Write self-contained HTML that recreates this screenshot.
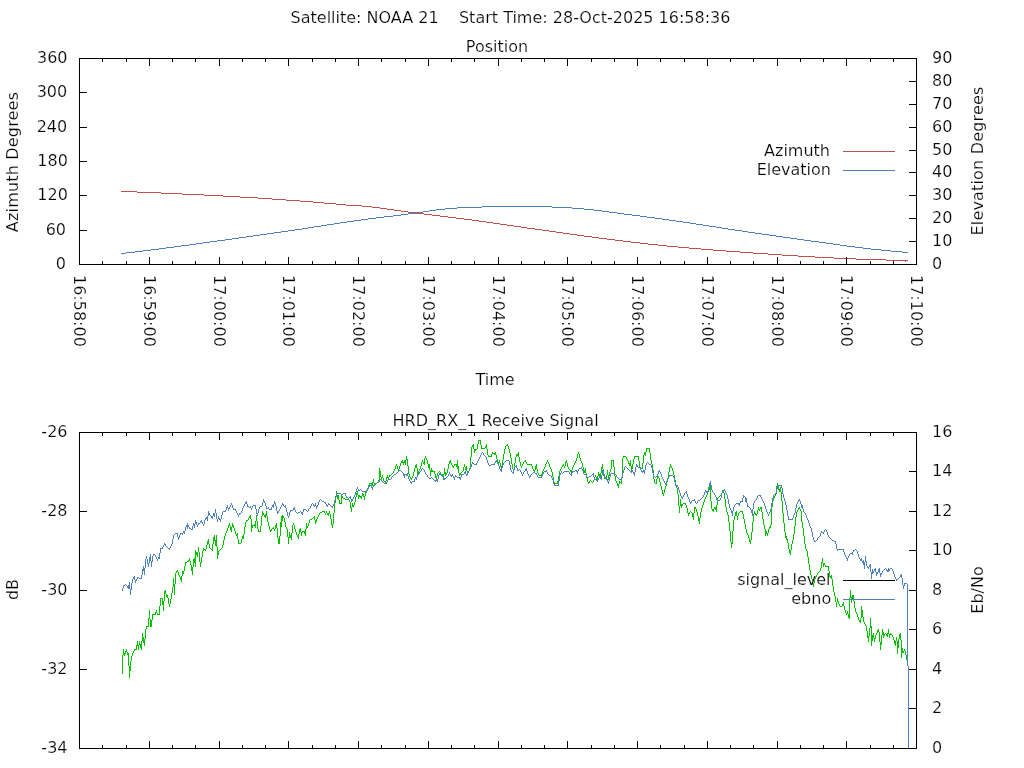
<!DOCTYPE html>
<html lang="en"><head><meta charset="utf-8"><title>Satellite: NOAA 21</title>
<style>html,body{margin:0;padding:0;background:#fff;overflow:hidden}svg{display:block}</style>
</head><body>
<svg width="1024" height="768" viewBox="0 0 1024 768">
<rect width="1024" height="768" fill="#fff"/>
<g fill="none" stroke-width="1" stroke-linecap="butt">
<path stroke="#c0504d" d="M121 191.5h16M137 192.5h24M161 193.5h21M182 194.5h22M204 195.5h19M223 196.5h17M240 197.5h18M258 198.5h14M272 199.5h14M286 200.5h14M300 201.5h13M313 202.5h11M324 203.5h12M336 204.5h10M346 205.5h16M362 206.5h10M372 207.5h8M380 208.5h7M387 209.5h7M394 210.5h7M401 211.5h7M408 212.5h8M416 213.5h8M424 214.5h8M432 215.5h8M440 216.5h8M448 217.5h8M456 218.5h8M464 219.5h8M472 220.5h7M479 221.5h7M486 222.5h7M493 223.5h7M500 224.5h7M507 225.5h7M514 226.5h7M521 227.5h6M527 228.5h8M535 229.5h7M542 230.5h7M549 231.5h7M556 232.5h7M563 233.5h7M570 234.5h7M577 235.5h7M584 236.5h8M592 237.5h7M599 238.5h8M607 239.5h8M615 240.5h8M623 241.5h8M631 242.5h9M640 243.5h8M648 244.5h10M658 245.5h9M667 246.5h11M678 247.5h11M689 248.5h12M701 249.5h12M713 250.5h13M726 251.5h14M740 252.5h13M753 253.5h15M768 254.5h14M782 255.5h16M798 256.5h17M815 257.5h19M834 258.5h22M856 259.5h30M886 260.5h22M905 261.5h1"/>
<path stroke="#4f81bd" d="M482 206.5h70M457 207.5h25M552 207.5h20M445 208.5h12M572 208.5h12M436 209.5h9M584 209.5h10M429 210.5h7M594 210.5h8M423 211.5h6M602 211.5h7M416 212.5h7M609 212.5h8M408 213.5h8M617 213.5h7M401 214.5h7M624 214.5h8M393 215.5h8M632 215.5h8M384 216.5h9M640 216.5h7M376 217.5h8M647 217.5h8M368 218.5h8M655 218.5h7M361 219.5h7M662 219.5h7M354 220.5h7M669 220.5h7M347 221.5h7M676 221.5h7M340 222.5h7M683 222.5h7M334 223.5h6M690 223.5h6M327 224.5h7M696 224.5h7M321 225.5h6M703 225.5h6M314 226.5h7M709 226.5h7M308 227.5h6M716 227.5h6M302 228.5h6M722 228.5h6M295 229.5h7M728 229.5h7M288 230.5h7M735 230.5h7M281 231.5h7M742 231.5h6M274 232.5h7M748 232.5h7M267 233.5h7M755 233.5h7M260 234.5h7M762 234.5h7M253 235.5h7M769 235.5h7M246 236.5h7M776 236.5h7M239 237.5h7M783 237.5h7M232 238.5h7M790 238.5h7M225 239.5h7M797 239.5h7M217 240.5h8M804 240.5h7M210 241.5h7M811 241.5h8M203 242.5h7M819 242.5h7M196 243.5h7M826 243.5h7M189 244.5h7M833 244.5h7M181 245.5h8M840 245.5h7M174 246.5h7M847 246.5h8M166 247.5h8M855 247.5h8M159 248.5h7M863 248.5h8M151 249.5h8M871 249.5h10M143 250.5h8M881 250.5h10M135 251.5h8M891 251.5h11M126 252.5h9M902 252.5h6M121 253.5h5"/>
<path d="M843 151.5H895" stroke="#c0504d"/>
<path d="M843 170.5H895" stroke="#4f81bd"/>
<path stroke="#00c000" d="M122.5 655v19M123.5 649v6M124.5 653v3M125.5 651v3M126.5 649v3M127.5 652v3M128.5 653v13M129.5 666v12M130.5 661v10M131.5 656v5M132.5 653v3M133.5 651v2M134.5 649v2M135.5 649v1M136.5 645v5M137.5 641v5M138.5 645v5M139.5 641v4M140.5 644v4M141.5 641v9M142.5 633v8M143.5 637v6M144.5 639v7M145.5 629v10M146.5 626v3M147.5 626v1M148.5 618v9M149.5 610v9M150.5 619v8M151.5 620v7M152.5 614v6M153.5 614v1M154.5 614v1M155.5 612v3M156.5 610v3M157.5 613v2M158.5 614v1M159.5 606v9M160.5 598v8M161.5 598v1M162.5 598v7M163.5 601v10M164.5 591v10M165.5 590v4M166.5 594v3M167.5 595v3M168.5 598v6M169.5 604v3M170.5 599v5M171.5 593v6M172.5 587v6M173.5 578v9M174.5 584v11M175.5 573v11M176.5 571v2M177.5 570v2M178.5 572v3M179.5 575v2M180.5 577v3M181.5 576v6M182.5 571v5M183.5 571v3M184.5 566v5M185.5 562v4M186.5 562v1M187.5 561v1M188.5 560v2M189.5 558v3M190.5 561v4M191.5 565v6M192.5 567v8M193.5 559v8M194.5 558v5M195.5 550v17M196.5 552v3M197.5 552v5M198.5 547v5M199.5 552v10M200.5 562v5M201.5 557v6M202.5 551v6M203.5 548v3M204.5 549v1M205.5 549v2M206.5 545v4M207.5 541v4M208.5 539v5M209.5 544v4M210.5 548v1M211.5 549v1M212.5 544v7M213.5 537v7M214.5 535v6M215.5 540v6M216.5 535v12M217.5 547v12M218.5 551v4M219.5 550v1M220.5 549v1M221.5 548v1M222.5 545v3M223.5 540v5M224.5 536v4M225.5 533v3M226.5 531v2M227.5 528v3M228.5 525v3M229.5 523v3M230.5 526v4M231.5 527v5M232.5 523v4M233.5 525v3M234.5 528v3M235.5 531v3M236.5 534v2M237.5 533v6M238.5 539v5M239.5 543v1M240.5 543v1M241.5 539v4M242.5 536v3M243.5 534v5M244.5 527v7M245.5 522v5M246.5 520v2M247.5 520v1M248.5 518v2M249.5 516v2M250.5 515v4M251.5 519v13M252.5 525v3M253.5 525v1M254.5 524v2M255.5 521v7M256.5 515v6M257.5 521v8M258.5 529v3M259.5 531v1M260.5 526v6M261.5 516v10M262.5 511v5M263.5 513v2M264.5 515v2M265.5 514v4M266.5 511v5M267.5 516v6M268.5 522v4M269.5 526v4M270.5 530v2M271.5 529v2M272.5 528v1M273.5 527v2M274.5 529v2M275.5 525v4M276.5 523v5M277.5 528v10M278.5 538v6M279.5 536v8M280.5 522v14M281.5 516v11M282.5 515v6M283.5 516v2M284.5 518v4M285.5 522v5M286.5 527v2M287.5 529v8M288.5 537v7M289.5 532v6M290.5 535v3M291.5 533v7M292.5 525v8M293.5 523v2M294.5 525v4M295.5 529v3M296.5 532v3M297.5 535v2M298.5 534v5M299.5 529v5M300.5 528v4M301.5 532v4M302.5 531v2M303.5 531v1M304.5 531v3M305.5 529v7M306.5 523v6M307.5 526v2M308.5 523v3M309.5 520v3M310.5 519v1M311.5 519v1M312.5 518v1M313.5 517v1M314.5 516v4M315.5 520v4M316.5 519v3M317.5 517v2M318.5 515v2M319.5 513v2M320.5 512v1M321.5 512v1M322.5 511v1M323.5 511v1M324.5 511v2M325.5 513v2M326.5 511v2M327.5 513v2M328.5 513v3M329.5 511v3M330.5 514v5M331.5 519v6M332.5 524v4M333.5 513v11M334.5 503v10M335.5 496v7M336.5 491v5M337.5 495v4M338.5 495v5M339.5 500v4M340.5 503v1M341.5 495v9M342.5 496v2M343.5 498v1M344.5 498v1M345.5 499v1M346.5 499v1M347.5 499v1M348.5 499v1M349.5 500v2M350.5 502v6M351.5 507v5M352.5 503v4M353.5 505v2M354.5 502v3M355.5 497v5M356.5 493v4M357.5 491v4M358.5 495v4M359.5 495v2M360.5 496v2M361.5 496v3M362.5 493v3M363.5 494v3M364.5 496v4M365.5 492v4M366.5 490v2M367.5 488v2M368.5 485v3M369.5 483v2M370.5 483v1M371.5 483v2M372.5 482v4M373.5 479v4M374.5 483v3M375.5 484v1M376.5 483v1M377.5 482v1M378.5 480v2M379.5 468v12M380.5 471v6M381.5 477v3M382.5 475v3M383.5 478v3M384.5 481v1M385.5 481v2M386.5 477v4M387.5 475v3M388.5 477v3M389.5 475v2M390.5 475v1M391.5 474v1M392.5 473v1M393.5 471v2M394.5 469v2M395.5 466v3M396.5 464v2M397.5 466v3M398.5 469v2M399.5 466v3M400.5 463v3M401.5 461v2M402.5 460v3M403.5 462v3M404.5 460v3M405.5 460v5M406.5 456v4M407.5 459v7M408.5 466v8M409.5 474v3M410.5 477v2M411.5 478v2M412.5 476v2M413.5 472v4M414.5 468v4M415.5 465v3M416.5 464v4M417.5 468v9M418.5 471v3M419.5 469v2M420.5 466v3M421.5 462v4M422.5 460v2M423.5 462v2M424.5 458v7M425.5 456v2M426.5 458v2M427.5 460v4M428.5 464v4M429.5 464v6M430.5 470v6M431.5 468v4M432.5 470v2M433.5 471v1M434.5 471v3M435.5 474v4M436.5 476v4M437.5 473v3M438.5 472v1M439.5 471v1M440.5 472v2M441.5 474v2M442.5 474v3M443.5 474v6M444.5 468v6M445.5 472v4M446.5 473v2M447.5 469v4M448.5 464v5M449.5 461v3M450.5 460v3M451.5 463v2M452.5 465v2M453.5 466v2M454.5 464v2M455.5 464v1M456.5 464v3M457.5 460v9M458.5 466v7M459.5 473v3M460.5 473v2M461.5 472v1M462.5 471v1M463.5 467v4M464.5 464v3M465.5 467v3M466.5 466v5M467.5 471v4M468.5 471v2M469.5 468v3M470.5 457v11M471.5 447v10M472.5 445v2M473.5 444v5M474.5 449v4M475.5 449v2M476.5 449v1M477.5 444v5M478.5 440v4M479.5 440v1M480.5 440v5M481.5 445v4M482.5 448v1M483.5 448v1M484.5 448v1M485.5 446v2M486.5 444v5M487.5 449v6M488.5 455v2M489.5 456v1M490.5 456v1M491.5 454v3M492.5 452v2M493.5 453v1M494.5 453v2M495.5 452v3M496.5 455v4M497.5 459v4M498.5 462v3M499.5 460v3M500.5 463v4M501.5 466v3M502.5 460v6M503.5 454v6M504.5 449v5M505.5 446v3M506.5 445v1M507.5 444v2M508.5 446v3M509.5 449v4M510.5 453v5M511.5 458v6M512.5 464v5M513.5 469v3M514.5 463v6M515.5 457v6M516.5 454v3M517.5 454v2M518.5 452v5M519.5 457v5M520.5 462v4M521.5 466v2M522.5 464v2M523.5 462v2M524.5 461v1M525.5 460v2M526.5 462v2M527.5 464v1M528.5 464v1M529.5 464v1M530.5 464v1M531.5 464v2M532.5 466v3M533.5 469v2M534.5 470v3M535.5 466v4M536.5 464v5M537.5 469v4M538.5 473v2M539.5 475v1M540.5 475v1M541.5 474v2M542.5 471v3M543.5 469v2M544.5 467v2M545.5 464v3M546.5 462v2M547.5 460v2M548.5 462v2M549.5 464v3M550.5 467v2M551.5 469v3M552.5 472v5M553.5 477v5M554.5 482v2M555.5 483v1M556.5 483v1M557.5 481v3M558.5 476v5M559.5 471v5M560.5 469v2M561.5 467v2M562.5 465v2M563.5 464v2M564.5 466v2M565.5 462v4M566.5 460v3M567.5 463v4M568.5 467v2M569.5 469v1M570.5 470v2M571.5 470v3M572.5 467v3M573.5 465v2M574.5 463v2M575.5 461v2M576.5 458v3M577.5 454v4M578.5 452v2M579.5 454v4M580.5 458v3M581.5 461v2M582.5 463v4M583.5 467v4M584.5 470v3M585.5 468v5M586.5 473v5M587.5 478v4M588.5 482v2M589.5 481v2M590.5 480v1M591.5 481v1M592.5 482v1M593.5 480v2M594.5 477v3M595.5 475v2M596.5 477v2M597.5 476v4M598.5 472v4M599.5 474v2M600.5 473v4M601.5 467v6M602.5 464v5M603.5 469v7M604.5 476v3M605.5 478v1M606.5 475v5M607.5 470v5M608.5 475v5M609.5 472v4M610.5 469v3M611.5 460v9M612.5 460v1M613.5 460v7M614.5 467v9M615.5 476v5M616.5 481v2M617.5 483v3M618.5 484v4M619.5 481v3M620.5 482v1M621.5 478v6M622.5 458v20M623.5 456v2M624.5 456v1M625.5 456v1M626.5 457v2M627.5 459v2M628.5 461v3M629.5 463v3M630.5 460v6M631.5 466v6M632.5 464v5M633.5 459v5M634.5 456v3M635.5 456v1M636.5 456v1M637.5 456v1M638.5 456v5M639.5 461v6M640.5 467v2M641.5 468v1M642.5 463v6M643.5 455v8M644.5 452v3M645.5 452v4M646.5 448v4M647.5 448v1M648.5 448v1M649.5 448v5M650.5 453v7M651.5 460v4M652.5 464v6M653.5 470v9M654.5 479v4M655.5 483v1M656.5 479v5M657.5 474v5M658.5 476v2M659.5 478v4M660.5 482v4M661.5 486v4M662.5 490v4M663.5 493v3M664.5 489v4M665.5 486v3M666.5 482v4M667.5 478v4M668.5 472v6M669.5 467v5M670.5 464v3M671.5 466v2M672.5 468v3M673.5 471v4M674.5 475v5M675.5 480v5M676.5 485v3M677.5 488v6M678.5 494v12M679.5 506v7M680.5 499v7M681.5 504v4M682.5 504v2M683.5 503v1M684.5 503v1M685.5 503v2M686.5 505v3M687.5 508v5M688.5 513v3M689.5 512v2M690.5 511v1M691.5 512v1M692.5 513v4M693.5 513v7M694.5 507v6M695.5 507v2M696.5 509v3M697.5 512v4M698.5 516v5M699.5 518v6M700.5 512v6M701.5 508v4M702.5 505v3M703.5 502v3M704.5 499v3M705.5 497v2M706.5 495v2M707.5 492v3M708.5 490v2M709.5 485v5M710.5 482v19M711.5 501v8M712.5 509v2M713.5 509v3M714.5 507v2M715.5 507v3M716.5 505v7M717.5 498v7M718.5 497v1M719.5 496v1M720.5 495v1M721.5 493v2M722.5 491v2M723.5 490v3M724.5 493v6M725.5 499v8M726.5 507v5M727.5 512v3M728.5 515v7M729.5 522v9M730.5 531v11M731.5 542v6M732.5 531v13M733.5 520v11M734.5 516v4M735.5 512v4M736.5 511v5M737.5 516v4M738.5 513v3M739.5 512v1M740.5 511v1M741.5 511v1M742.5 511v3M743.5 514v5M744.5 519v5M745.5 524v5M746.5 529v4M747.5 533v2M748.5 535v3M749.5 538v4M750.5 540v4M751.5 532v8M752.5 522v10M753.5 514v8M754.5 511v3M755.5 513v2M756.5 514v2M757.5 510v4M758.5 507v3M759.5 509v2M760.5 507v2M761.5 507v5M762.5 512v7M763.5 519v6M764.5 525v4M765.5 529v7M766.5 531v3M767.5 533v3M768.5 529v4M769.5 527v2M770.5 525v3M771.5 507v18M772.5 501v6M773.5 498v3M774.5 496v2M775.5 494v2M776.5 486v8M777.5 483v3M778.5 486v4M779.5 489v3M780.5 487v5M781.5 492v9M782.5 501v12M783.5 513v10M784.5 523v9M785.5 532v6M786.5 536v4M787.5 539v4M788.5 543v6M789.5 549v4M790.5 550v5M791.5 544v6M792.5 540v4M793.5 534v6M794.5 526v8M795.5 517v9M796.5 512v5M797.5 510v2M798.5 508v2M799.5 507v2M800.5 509v2M801.5 511v11M802.5 522v6M803.5 528v8M804.5 536v8M805.5 544v5M806.5 549v2M807.5 551v6M808.5 557v7M809.5 564v6M810.5 570v5M811.5 575v4M812.5 579v5M813.5 583v4M814.5 579v4M815.5 577v2M816.5 575v2M817.5 573v2M818.5 572v1M819.5 571v1M820.5 568v3M821.5 562v6M822.5 558v5M823.5 563v4M824.5 563v2M825.5 565v2M826.5 566v1M827.5 566v1M828.5 566v5M829.5 571v6M830.5 576v2M831.5 575v4M832.5 579v7M833.5 586v6M834.5 592v4M835.5 596v6M836.5 602v5M837.5 598v4M838.5 601v3M839.5 604v2M840.5 606v1M841.5 606v1M842.5 604v2M843.5 602v4M844.5 606v4M845.5 610v3M846.5 613v2M847.5 611v3M848.5 614v4M849.5 598v21M850.5 590v8M851.5 597v6M852.5 595v4M853.5 595v6M854.5 601v7M855.5 608v4M856.5 612v2M857.5 614v3M858.5 617v3M859.5 620v2M860.5 618v5M861.5 606v12M862.5 610v7M863.5 617v5M864.5 622v2M865.5 624v2M866.5 626v5M867.5 631v7M868.5 636v6M869.5 628v8M870.5 618v10M871.5 626v20M872.5 635v6M873.5 633v5M874.5 638v4M875.5 635v4M876.5 633v2M877.5 630v3M878.5 629v3M879.5 632v10M880.5 642v8M881.5 635v10M882.5 629v6M883.5 632v6M884.5 634v2M885.5 633v1M886.5 634v2M887.5 633v4M888.5 629v5M889.5 634v4M890.5 633v2M891.5 634v1M892.5 635v2M893.5 637v3M894.5 640v4M895.5 641v5M896.5 637v4M897.5 641v13M898.5 639v9M899.5 634v5M900.5 633v7M901.5 640v18M902.5 648v5M903.5 651v2M904.5 649v2M905.5 651v4M906.5 655v5M907.5 660v2"/>
<path stroke="#4f81bd" d="M122.5 588v3M123.5 585v3M124.5 585v1M125.5 584v1M126.5 585v1M127.5 586v2M128.5 585v4M129.5 582v7M130.5 589v6M131.5 583v7M132.5 579v4M133.5 577v2M134.5 576v4M135.5 580v3M136.5 579v2M137.5 577v2M138.5 577v1M139.5 578v1M140.5 578v1M141.5 575v4M142.5 569v6M143.5 566v5M144.5 568v7M145.5 559v9M146.5 556v3M147.5 559v5M148.5 563v4M149.5 557v6M150.5 554v7M151.5 561v6M152.5 556v6M153.5 554v2M154.5 554v1M155.5 555v2M156.5 557v2M157.5 559v2M158.5 557v2M159.5 553v6M160.5 548v5M161.5 548v1M162.5 547v2M163.5 545v2M164.5 543v2M165.5 544v2M166.5 546v1M167.5 547v1M168.5 548v1M169.5 548v2M170.5 546v2M171.5 544v2M172.5 539v5M173.5 535v4M174.5 534v1M175.5 533v1M176.5 533v1M177.5 533v4M178.5 537v3M179.5 535v3M180.5 533v2M181.5 533v1M182.5 533v2M183.5 531v2M184.5 531v3M185.5 527v4M186.5 525v2M187.5 523v6M188.5 525v2M189.5 527v2M190.5 528v1M191.5 529v1M192.5 526v4M193.5 523v3M194.5 524v4M195.5 520v4M196.5 522v3M197.5 525v2M198.5 523v2M199.5 523v1M200.5 521v2M201.5 520v2M202.5 522v2M203.5 524v2M204.5 520v4M205.5 518v2M206.5 517v2M207.5 516v5M208.5 511v5M209.5 513v2M210.5 515v1M211.5 516v2M212.5 516v3M213.5 513v3M214.5 513v4M215.5 509v4M216.5 513v6M217.5 519v3M218.5 516v3M219.5 518v2M220.5 519v3M221.5 515v4M222.5 512v3M223.5 511v1M224.5 511v1M225.5 510v2M226.5 507v3M227.5 505v3M228.5 508v3M229.5 507v2M230.5 505v2M231.5 503v2M232.5 505v3M233.5 508v2M234.5 509v1M235.5 509v2M236.5 511v2M237.5 513v2M238.5 515v2M239.5 513v2M240.5 513v1M241.5 511v2M242.5 508v3M243.5 506v2M244.5 504v2M245.5 502v2M246.5 501v3M247.5 504v3M248.5 506v1M249.5 507v1M250.5 506v2M251.5 508v2M252.5 506v2M253.5 505v1M254.5 505v1M255.5 505v4M256.5 509v5M257.5 513v3M258.5 509v4M259.5 507v2M260.5 506v1M261.5 506v1M262.5 502v4M263.5 499v3M264.5 501v2M265.5 503v3M266.5 506v3M267.5 508v1M268.5 507v2M269.5 509v1M270.5 509v1M271.5 507v3M272.5 505v2M273.5 504v4M274.5 501v3M275.5 503v3M276.5 506v5M277.5 511v3M278.5 511v2M279.5 509v2M280.5 507v2M281.5 505v2M282.5 503v2M283.5 504v2M284.5 506v1M285.5 505v3M286.5 508v4M287.5 512v4M288.5 516v2M289.5 512v4M290.5 510v2M291.5 510v1M292.5 510v1M293.5 508v2M294.5 507v3M295.5 510v2M296.5 512v1M297.5 513v1M298.5 512v1M299.5 512v1M300.5 511v1M301.5 512v2M302.5 512v3M303.5 509v3M304.5 509v1M305.5 509v1M306.5 510v1M307.5 511v1M308.5 509v2M309.5 508v1M310.5 506v2M311.5 504v2M312.5 503v1M313.5 504v2M314.5 505v2M315.5 503v3M316.5 506v3M317.5 505v2M318.5 502v3M319.5 500v2M320.5 499v1M321.5 500v1M322.5 501v1M323.5 501v1M324.5 502v1M325.5 502v2M326.5 504v2M327.5 505v2M328.5 503v2M329.5 504v1M330.5 505v1M331.5 506v1M332.5 506v2M333.5 504v2M334.5 500v4M335.5 497v3M336.5 494v3M337.5 493v1M338.5 493v1M339.5 493v1M340.5 493v1M341.5 494v1M342.5 494v1M343.5 493v1M344.5 493v1M345.5 493v3M346.5 496v2M347.5 497v1M348.5 498v1M349.5 497v1M350.5 496v3M351.5 499v3M352.5 499v2M353.5 497v2M354.5 495v2M355.5 492v3M356.5 489v3M357.5 487v2M358.5 489v2M359.5 490v1M360.5 489v1M361.5 490v1M362.5 491v1M363.5 491v1M364.5 491v1M365.5 491v1M366.5 491v2M367.5 489v2M368.5 487v2M369.5 485v2M370.5 485v1M371.5 485v3M372.5 487v3M373.5 485v2M374.5 484v1M375.5 483v1M376.5 483v1M377.5 482v1M378.5 482v1M379.5 480v2M380.5 479v1M381.5 480v1M382.5 481v1M383.5 482v1M384.5 483v1M385.5 483v1M386.5 482v2M387.5 480v2M388.5 479v1M389.5 479v1M390.5 479v1M391.5 477v2M392.5 476v1M393.5 475v1M394.5 474v1M395.5 474v1M396.5 473v1M397.5 472v1M398.5 471v1M399.5 470v1M400.5 470v1M401.5 471v1M402.5 472v1M403.5 473v3M404.5 474v4M405.5 474v1M406.5 474v2M407.5 473v3M408.5 476v3M409.5 479v2M410.5 481v2M411.5 482v2M412.5 481v1M413.5 481v1M414.5 479v3M415.5 477v2M416.5 477v3M417.5 474v3M418.5 474v1M419.5 472v2M420.5 471v1M421.5 469v2M422.5 468v1M423.5 469v1M424.5 470v2M425.5 472v2M426.5 474v1M427.5 475v2M428.5 477v1M429.5 478v1M430.5 478v1M431.5 477v1M432.5 478v1M433.5 479v1M434.5 480v1M435.5 480v2M436.5 479v2M437.5 479v3M438.5 475v4M439.5 473v2M440.5 474v1M441.5 475v1M442.5 476v1M443.5 475v3M444.5 478v2M445.5 478v1M446.5 477v1M447.5 476v1M448.5 474v2M449.5 472v2M450.5 474v2M451.5 475v2M452.5 474v2M453.5 476v2M454.5 477v3M455.5 475v2M456.5 476v1M457.5 477v1M458.5 477v1M459.5 477v2M460.5 477v3M461.5 474v3M462.5 474v1M463.5 474v1M464.5 472v2M465.5 471v3M466.5 474v2M467.5 473v2M468.5 471v2M469.5 469v2M470.5 467v2M471.5 464v3M472.5 462v2M473.5 463v1M474.5 464v1M475.5 464v1M476.5 463v2M477.5 461v2M478.5 459v2M479.5 457v2M480.5 455v2M481.5 453v2M482.5 452v1M483.5 453v2M484.5 455v1M485.5 456v1M486.5 457v3M487.5 460v3M488.5 463v2M489.5 465v1M490.5 465v1M491.5 464v1M492.5 464v1M493.5 464v1M494.5 463v2M495.5 461v2M496.5 460v2M497.5 462v2M498.5 464v2M499.5 466v3M500.5 469v2M501.5 468v4M502.5 465v3M503.5 463v2M504.5 462v1M505.5 461v1M506.5 460v1M507.5 460v1M508.5 460v1M509.5 461v4M510.5 465v5M511.5 470v2M512.5 472v1M513.5 470v4M514.5 466v4M515.5 466v1M516.5 465v3M517.5 468v3M518.5 470v1M519.5 469v1M520.5 470v2M521.5 472v2M522.5 474v2M523.5 472v2M524.5 471v1M525.5 469v2M526.5 468v3M527.5 471v3M528.5 474v2M529.5 476v2M530.5 475v2M531.5 474v1M532.5 473v1M533.5 472v1M534.5 472v1M535.5 473v1M536.5 473v2M537.5 475v2M538.5 477v1M539.5 477v1M540.5 477v1M541.5 476v2M542.5 474v2M543.5 472v2M544.5 471v1M545.5 471v1M546.5 470v2M547.5 472v2M548.5 474v1M549.5 475v1M550.5 475v1M551.5 476v2M552.5 478v2M553.5 480v4M554.5 484v2M555.5 485v1M556.5 485v1M557.5 485v1M558.5 481v5M559.5 475v6M560.5 473v2M561.5 471v2M562.5 473v1M563.5 472v1M564.5 471v1M565.5 471v1M566.5 471v1M567.5 471v1M568.5 471v1M569.5 472v2M570.5 474v1M571.5 473v3M572.5 471v2M573.5 471v1M574.5 471v1M575.5 470v1M576.5 470v2M577.5 471v3M578.5 469v2M579.5 468v1M580.5 468v1M581.5 467v2M582.5 469v2M583.5 471v3M584.5 474v1M585.5 474v1M586.5 475v2M587.5 477v1M588.5 477v1M589.5 476v1M590.5 476v1M591.5 475v1M592.5 474v1M593.5 473v4M594.5 477v3M595.5 479v1M596.5 479v2M597.5 480v2M598.5 478v2M599.5 476v2M600.5 477v2M601.5 475v5M602.5 470v5M603.5 471v3M604.5 474v3M605.5 477v2M606.5 479v1M607.5 479v3M608.5 481v3M609.5 477v4M610.5 474v3M611.5 473v1M612.5 473v1M613.5 473v1M614.5 473v1M615.5 474v1M616.5 475v2M617.5 477v1M618.5 478v1M619.5 479v1M620.5 479v1M621.5 477v3M622.5 473v4M623.5 470v3M624.5 467v3M625.5 466v1M626.5 467v1M627.5 468v1M628.5 469v1M629.5 470v1M630.5 471v1M631.5 471v2M632.5 470v2M633.5 472v2M634.5 472v4M635.5 467v5M636.5 464v3M637.5 465v2M638.5 467v1M639.5 467v1M640.5 468v2M641.5 470v2M642.5 471v2M643.5 470v2M644.5 470v4M645.5 465v5M646.5 463v2M647.5 462v1M648.5 463v1M649.5 464v1M650.5 464v1M651.5 465v3M652.5 468v5M653.5 473v3M654.5 476v1M655.5 477v1M656.5 476v1M657.5 474v2M658.5 471v3M659.5 470v2M660.5 472v2M661.5 474v3M662.5 477v2M663.5 479v2M664.5 481v2M665.5 483v2M666.5 481v2M667.5 479v2M668.5 477v2M669.5 475v2M670.5 475v1M671.5 475v1M672.5 475v1M673.5 476v2M674.5 478v4M675.5 482v4M676.5 486v2M677.5 485v2M678.5 487v3M679.5 490v3M680.5 493v3M681.5 496v2M682.5 497v2M683.5 495v2M684.5 493v2M685.5 492v1M686.5 491v3M687.5 494v3M688.5 497v2M689.5 499v3M690.5 502v2M691.5 501v2M692.5 500v1M693.5 500v1M694.5 499v2M695.5 501v2M696.5 503v1M697.5 501v2M698.5 500v1M699.5 500v1M700.5 499v1M701.5 498v1M702.5 497v1M703.5 495v2M704.5 492v3M705.5 490v2M706.5 491v2M707.5 491v3M708.5 487v4M709.5 483v4M710.5 481v4M711.5 485v5M712.5 490v2M713.5 492v1M714.5 493v2M715.5 495v2M716.5 497v3M717.5 500v2M718.5 500v1M719.5 500v1M720.5 498v2M721.5 493v5M722.5 490v3M723.5 490v1M724.5 489v2M725.5 491v2M726.5 493v2M727.5 495v4M728.5 499v5M729.5 504v4M730.5 508v2M731.5 510v3M732.5 511v5M733.5 507v4M734.5 505v2M735.5 504v1M736.5 503v1M737.5 503v1M738.5 503v2M739.5 503v3M740.5 501v2M741.5 501v1M742.5 498v4M743.5 495v3M744.5 496v1M745.5 497v5M746.5 498v5M747.5 503v4M748.5 506v1M749.5 507v1M750.5 508v2M751.5 510v3M752.5 509v7M753.5 503v6M754.5 501v2M755.5 500v1M756.5 498v2M757.5 496v2M758.5 495v1M759.5 495v1M760.5 495v2M761.5 497v2M762.5 499v2M763.5 501v2M764.5 503v3M765.5 506v3M766.5 509v3M767.5 512v2M768.5 514v2M769.5 512v2M770.5 509v3M771.5 503v6M772.5 498v5M773.5 495v3M774.5 494v1M775.5 493v1M776.5 489v4M777.5 485v4M778.5 485v1M779.5 485v1M780.5 485v1M781.5 485v3M782.5 488v6M783.5 494v4M784.5 498v3M785.5 501v4M786.5 505v5M787.5 510v6M788.5 516v4M789.5 519v1M790.5 519v1M791.5 519v1M792.5 518v2M793.5 515v3M794.5 513v2M795.5 508v5M796.5 504v4M797.5 502v2M798.5 500v2M799.5 499v2M800.5 501v3M801.5 504v4M802.5 505v4M803.5 509v3M804.5 512v1M805.5 513v2M806.5 515v3M807.5 518v2M808.5 520v3M809.5 523v3M810.5 526v2M811.5 528v4M812.5 532v5M813.5 537v3M814.5 540v2M815.5 541v1M816.5 540v1M817.5 538v2M818.5 537v1M819.5 536v1M820.5 533v3M821.5 531v2M822.5 532v1M823.5 532v2M824.5 530v2M825.5 529v1M826.5 530v2M827.5 532v3M828.5 535v2M829.5 537v1M830.5 538v1M831.5 539v1M832.5 540v1M833.5 540v1M834.5 541v1M835.5 541v3M836.5 544v5M837.5 549v2M838.5 549v1M839.5 549v1M840.5 549v1M841.5 549v1M842.5 549v1M843.5 549v3M844.5 552v3M845.5 555v2M846.5 557v2M847.5 558v3M848.5 556v2M849.5 554v2M850.5 553v1M851.5 553v1M852.5 552v3M853.5 550v2M854.5 550v1M855.5 549v1M856.5 550v1M857.5 551v3M858.5 554v3M859.5 557v2M860.5 559v2M861.5 558v3M862.5 561v2M863.5 560v5M864.5 562v7M865.5 556v6M866.5 561v5M867.5 566v2M868.5 567v2M869.5 565v2M870.5 564v8M871.5 572v7M872.5 569v5M873.5 571v2M874.5 569v2M875.5 568v4M876.5 572v4M877.5 572v2M878.5 569v3M879.5 568v5M880.5 573v4M881.5 573v2M882.5 571v2M883.5 570v1M884.5 569v1M885.5 568v1M886.5 569v2M887.5 570v2M888.5 568v4M889.5 569v2M890.5 568v1M891.5 568v1M892.5 569v2M893.5 571v3M894.5 574v3M895.5 577v2M896.5 579v2M897.5 579v1M898.5 578v1M899.5 577v1M900.5 575v2M901.5 574v4M902.5 578v7M903.5 585v4M904.5 583v3M905.5 583v1M906.5 583v1M907.5 584v82M908.5 666v83"/>
<path d="M843 580.5H895" stroke="#000"/>
<path d="M843 599.5H895" stroke="#4f81bd"/>
<path stroke="#000" d="M79 58.5h838M79 59.5h1M102 59.5h1M126 59.5h1M149 59.5h1M172 59.5h1M195 59.5h1M219 59.5h1M242 59.5h1M265 59.5h1M288 59.5h1M312 59.5h1M335 59.5h1M358 59.5h1M381 59.5h1M405 59.5h1M428 59.5h1M451 59.5h1M474 59.5h1M498 59.5h1M521 59.5h1M544 59.5h1M567 59.5h1M591 59.5h1M614 59.5h1M637 59.5h1M660 59.5h1M684 59.5h1M707 59.5h1M730 59.5h1M753 59.5h1M777 59.5h1M800 59.5h1M823 59.5h1M846 59.5h1M870 59.5h1M893 59.5h1M916 59.5h1M79 60.5h1M102 60.5h1M126 60.5h1M149 60.5h1M172 60.5h1M195 60.5h1M219 60.5h1M242 60.5h1M265 60.5h1M288 60.5h1M312 60.5h1M335 60.5h1M358 60.5h1M381 60.5h1M405 60.5h1M428 60.5h1M451 60.5h1M474 60.5h1M498 60.5h1M521 60.5h1M544 60.5h1M567 60.5h1M591 60.5h1M614 60.5h1M637 60.5h1M660 60.5h1M684 60.5h1M707 60.5h1M730 60.5h1M753 60.5h1M777 60.5h1M800 60.5h1M823 60.5h1M846 60.5h1M870 60.5h1M893 60.5h1M916 60.5h1M79 61.5h1M102 61.5h1M126 61.5h1M149 61.5h1M172 61.5h1M195 61.5h1M219 61.5h1M242 61.5h1M265 61.5h1M288 61.5h1M312 61.5h1M335 61.5h1M358 61.5h1M381 61.5h1M405 61.5h1M428 61.5h1M451 61.5h1M474 61.5h1M498 61.5h1M521 61.5h1M544 61.5h1M567 61.5h1M591 61.5h1M614 61.5h1M637 61.5h1M660 61.5h1M684 61.5h1M707 61.5h1M730 61.5h1M753 61.5h1M777 61.5h1M800 61.5h1M823 61.5h1M846 61.5h1M870 61.5h1M893 61.5h1M916 61.5h1M79 62.5h1M149 62.5h1M219 62.5h1M288 62.5h1M358 62.5h1M428 62.5h1M498 62.5h1M567 62.5h1M637 62.5h1M707 62.5h1M777 62.5h1M846 62.5h1M916 62.5h1M79 63.5h1M149 63.5h1M219 63.5h1M288 63.5h1M358 63.5h1M428 63.5h1M498 63.5h1M567 63.5h1M637 63.5h1M707 63.5h1M777 63.5h1M846 63.5h1M916 63.5h1M79 64.5h1M149 64.5h1M219 64.5h1M288 64.5h1M358 64.5h1M428 64.5h1M498 64.5h1M567 64.5h1M637 64.5h1M707 64.5h1M777 64.5h1M846 64.5h1M916 64.5h1M79 65.5h1M149 65.5h1M219 65.5h1M288 65.5h1M358 65.5h1M428 65.5h1M498 65.5h1M567 65.5h1M637 65.5h1M707 65.5h1M777 65.5h1M846 65.5h1M916 65.5h1M79 66.5h1M916 66.5h1M79 67.5h1M916 67.5h1M79 68.5h1M916 68.5h1M79 69.5h1M916 69.5h1M79 70.5h1M916 70.5h1M79 71.5h1M916 71.5h1M79 72.5h1M916 72.5h1M79 73.5h1M916 73.5h1M79 74.5h1M916 74.5h1M79 75.5h1M916 75.5h1M79 76.5h1M916 76.5h1M79 77.5h1M916 77.5h1M79 78.5h1M916 78.5h1M79 79.5h1M916 79.5h1M79 80.5h1M916 80.5h1M79 81.5h1M909 81.5h8M79 82.5h1M916 82.5h1M79 83.5h1M916 83.5h1M79 84.5h1M916 84.5h1M79 85.5h1M916 85.5h1M79 86.5h1M916 86.5h1M79 87.5h1M916 87.5h1M79 88.5h1M916 88.5h1M79 89.5h1M916 89.5h1M79 90.5h1M916 90.5h1M79 91.5h1M916 91.5h1M79 92.5h8M916 92.5h1M79 93.5h1M916 93.5h1M79 94.5h1M916 94.5h1M79 95.5h1M916 95.5h1M79 96.5h1M916 96.5h1M79 97.5h1M916 97.5h1M79 98.5h1M916 98.5h1M79 99.5h1M916 99.5h1M79 100.5h1M916 100.5h1M79 101.5h1M916 101.5h1M79 102.5h1M916 102.5h1M79 103.5h1M916 103.5h1M79 104.5h1M909 104.5h8M79 105.5h1M916 105.5h1M79 106.5h1M916 106.5h1M79 107.5h1M916 107.5h1M79 108.5h1M916 108.5h1M79 109.5h1M916 109.5h1M79 110.5h1M916 110.5h1M79 111.5h1M916 111.5h1M79 112.5h1M916 112.5h1M79 113.5h1M916 113.5h1M79 114.5h1M916 114.5h1M79 115.5h1M916 115.5h1M79 116.5h1M916 116.5h1M79 117.5h1M916 117.5h1M79 118.5h1M916 118.5h1M79 119.5h1M916 119.5h1M79 120.5h1M916 120.5h1M79 121.5h1M916 121.5h1M79 122.5h1M916 122.5h1M79 123.5h1M916 123.5h1M79 124.5h1M916 124.5h1M79 125.5h1M916 125.5h1M79 126.5h1M916 126.5h1M79 127.5h8M909 127.5h8M79 128.5h1M916 128.5h1M79 129.5h1M916 129.5h1M79 130.5h1M916 130.5h1M79 131.5h1M916 131.5h1M79 132.5h1M916 132.5h1M79 133.5h1M916 133.5h1M79 134.5h1M916 134.5h1M79 135.5h1M916 135.5h1M79 136.5h1M916 136.5h1M79 137.5h1M916 137.5h1M79 138.5h1M916 138.5h1M79 139.5h1M916 139.5h1M79 140.5h1M916 140.5h1M79 141.5h1M916 141.5h1M79 142.5h1M916 142.5h1M79 143.5h1M916 143.5h1M79 144.5h1M916 144.5h1M79 145.5h1M916 145.5h1M79 146.5h1M916 146.5h1M79 147.5h1M916 147.5h1M79 148.5h1M916 148.5h1M79 149.5h1M916 149.5h1M79 150.5h1M909 150.5h8M79 151.5h1M916 151.5h1M79 152.5h1M916 152.5h1M79 153.5h1M916 153.5h1M79 154.5h1M916 154.5h1M79 155.5h1M916 155.5h1M79 156.5h1M916 156.5h1M79 157.5h1M916 157.5h1M79 158.5h1M916 158.5h1M79 159.5h1M916 159.5h1M79 160.5h1M916 160.5h1M79 161.5h8M916 161.5h1M79 162.5h1M916 162.5h1M79 163.5h1M916 163.5h1M79 164.5h1M916 164.5h1M79 165.5h1M916 165.5h1M79 166.5h1M916 166.5h1M79 167.5h1M916 167.5h1M79 168.5h1M916 168.5h1M79 169.5h1M916 169.5h1M79 170.5h1M916 170.5h1M79 171.5h1M916 171.5h1M79 172.5h1M909 172.5h8M79 173.5h1M916 173.5h1M79 174.5h1M916 174.5h1M79 175.5h1M916 175.5h1M79 176.5h1M916 176.5h1M79 177.5h1M916 177.5h1M79 178.5h1M916 178.5h1M79 179.5h1M916 179.5h1M79 180.5h1M916 180.5h1M79 181.5h1M916 181.5h1M79 182.5h1M916 182.5h1M79 183.5h1M916 183.5h1M79 184.5h1M916 184.5h1M79 185.5h1M916 185.5h1M79 186.5h1M916 186.5h1M79 187.5h1M916 187.5h1M79 188.5h1M916 188.5h1M79 189.5h1M916 189.5h1M79 190.5h1M916 190.5h1M79 191.5h1M916 191.5h1M79 192.5h1M916 192.5h1M79 193.5h1M916 193.5h1M79 194.5h1M916 194.5h1M79 195.5h8M909 195.5h8M79 196.5h1M916 196.5h1M79 197.5h1M916 197.5h1M79 198.5h1M916 198.5h1M79 199.5h1M916 199.5h1M79 200.5h1M916 200.5h1M79 201.5h1M916 201.5h1M79 202.5h1M916 202.5h1M79 203.5h1M916 203.5h1M79 204.5h1M916 204.5h1M79 205.5h1M916 205.5h1M79 206.5h1M916 206.5h1M79 207.5h1M916 207.5h1M79 208.5h1M916 208.5h1M79 209.5h1M916 209.5h1M79 210.5h1M916 210.5h1M79 211.5h1M916 211.5h1M79 212.5h1M916 212.5h1M79 213.5h1M916 213.5h1M79 214.5h1M916 214.5h1M79 215.5h1M916 215.5h1M79 216.5h1M916 216.5h1M79 217.5h1M916 217.5h1M79 218.5h1M909 218.5h8M79 219.5h1M916 219.5h1M79 220.5h1M916 220.5h1M79 221.5h1M916 221.5h1M79 222.5h1M916 222.5h1M79 223.5h1M916 223.5h1M79 224.5h1M916 224.5h1M79 225.5h1M916 225.5h1M79 226.5h1M916 226.5h1M79 227.5h1M916 227.5h1M79 228.5h1M916 228.5h1M79 229.5h1M916 229.5h1M79 230.5h8M916 230.5h1M79 231.5h1M916 231.5h1M79 232.5h1M916 232.5h1M79 233.5h1M916 233.5h1M79 234.5h1M916 234.5h1M79 235.5h1M916 235.5h1M79 236.5h1M916 236.5h1M79 237.5h1M916 237.5h1M79 238.5h1M916 238.5h1M79 239.5h1M916 239.5h1M79 240.5h1M916 240.5h1M79 241.5h1M909 241.5h8M79 242.5h1M916 242.5h1M79 243.5h1M916 243.5h1M79 244.5h1M916 244.5h1M79 245.5h1M916 245.5h1M79 246.5h1M916 246.5h1M79 247.5h1M916 247.5h1M79 248.5h1M916 248.5h1M79 249.5h1M916 249.5h1M79 250.5h1M916 250.5h1M79 251.5h1M916 251.5h1M79 252.5h1M916 252.5h1M79 253.5h1M916 253.5h1M79 254.5h1M916 254.5h1M79 255.5h1M916 255.5h1M79 256.5h1M916 256.5h1M79 257.5h1M149 257.5h1M219 257.5h1M288 257.5h1M358 257.5h1M428 257.5h1M498 257.5h1M567 257.5h1M637 257.5h1M707 257.5h1M777 257.5h1M846 257.5h1M916 257.5h1M79 258.5h1M149 258.5h1M219 258.5h1M288 258.5h1M358 258.5h1M428 258.5h1M498 258.5h1M567 258.5h1M637 258.5h1M707 258.5h1M777 258.5h1M846 258.5h1M916 258.5h1M79 259.5h1M149 259.5h1M219 259.5h1M288 259.5h1M358 259.5h1M428 259.5h1M498 259.5h1M567 259.5h1M637 259.5h1M707 259.5h1M777 259.5h1M846 259.5h1M916 259.5h1M79 260.5h1M149 260.5h1M219 260.5h1M288 260.5h1M358 260.5h1M428 260.5h1M498 260.5h1M567 260.5h1M637 260.5h1M707 260.5h1M777 260.5h1M846 260.5h1M916 260.5h1M79 261.5h1M102 261.5h1M126 261.5h1M149 261.5h1M172 261.5h1M195 261.5h1M219 261.5h1M242 261.5h1M265 261.5h1M288 261.5h1M312 261.5h1M335 261.5h1M358 261.5h1M381 261.5h1M405 261.5h1M428 261.5h1M451 261.5h1M474 261.5h1M498 261.5h1M521 261.5h1M544 261.5h1M567 261.5h1M591 261.5h1M614 261.5h1M637 261.5h1M660 261.5h1M684 261.5h1M707 261.5h1M730 261.5h1M753 261.5h1M777 261.5h1M800 261.5h1M823 261.5h1M846 261.5h1M870 261.5h1M893 261.5h1M916 261.5h1M79 262.5h1M102 262.5h1M126 262.5h1M149 262.5h1M172 262.5h1M195 262.5h1M219 262.5h1M242 262.5h1M265 262.5h1M288 262.5h1M312 262.5h1M335 262.5h1M358 262.5h1M381 262.5h1M405 262.5h1M428 262.5h1M451 262.5h1M474 262.5h1M498 262.5h1M521 262.5h1M544 262.5h1M567 262.5h1M591 262.5h1M614 262.5h1M637 262.5h1M660 262.5h1M684 262.5h1M707 262.5h1M730 262.5h1M753 262.5h1M777 262.5h1M800 262.5h1M823 262.5h1M846 262.5h1M870 262.5h1M893 262.5h1M916 262.5h1M79 263.5h1M102 263.5h1M126 263.5h1M149 263.5h1M172 263.5h1M195 263.5h1M219 263.5h1M242 263.5h1M265 263.5h1M288 263.5h1M312 263.5h1M335 263.5h1M358 263.5h1M381 263.5h1M405 263.5h1M428 263.5h1M451 263.5h1M474 263.5h1M498 263.5h1M521 263.5h1M544 263.5h1M567 263.5h1M591 263.5h1M614 263.5h1M637 263.5h1M660 263.5h1M684 263.5h1M707 263.5h1M730 263.5h1M753 263.5h1M777 263.5h1M800 263.5h1M823 263.5h1M846 263.5h1M870 263.5h1M893 263.5h1M916 263.5h1M79 264.5h838M79 432.5h838M79 433.5h1M102 433.5h1M126 433.5h1M149 433.5h1M172 433.5h1M195 433.5h1M219 433.5h1M242 433.5h1M265 433.5h1M288 433.5h1M312 433.5h1M335 433.5h1M358 433.5h1M381 433.5h1M405 433.5h1M428 433.5h1M451 433.5h1M474 433.5h1M498 433.5h1M521 433.5h1M544 433.5h1M567 433.5h1M591 433.5h1M614 433.5h1M637 433.5h1M660 433.5h1M684 433.5h1M707 433.5h1M730 433.5h1M753 433.5h1M777 433.5h1M800 433.5h1M823 433.5h1M846 433.5h1M870 433.5h1M893 433.5h1M916 433.5h1M79 434.5h1M102 434.5h1M126 434.5h1M149 434.5h1M172 434.5h1M195 434.5h1M219 434.5h1M242 434.5h1M265 434.5h1M288 434.5h1M312 434.5h1M335 434.5h1M358 434.5h1M381 434.5h1M405 434.5h1M428 434.5h1M451 434.5h1M474 434.5h1M498 434.5h1M521 434.5h1M544 434.5h1M567 434.5h1M591 434.5h1M614 434.5h1M637 434.5h1M660 434.5h1M684 434.5h1M707 434.5h1M730 434.5h1M753 434.5h1M777 434.5h1M800 434.5h1M823 434.5h1M846 434.5h1M870 434.5h1M893 434.5h1M916 434.5h1M79 435.5h1M102 435.5h1M126 435.5h1M149 435.5h1M172 435.5h1M195 435.5h1M219 435.5h1M242 435.5h1M265 435.5h1M288 435.5h1M312 435.5h1M335 435.5h1M358 435.5h1M381 435.5h1M405 435.5h1M428 435.5h1M451 435.5h1M474 435.5h1M498 435.5h1M521 435.5h1M544 435.5h1M567 435.5h1M591 435.5h1M614 435.5h1M637 435.5h1M660 435.5h1M684 435.5h1M707 435.5h1M730 435.5h1M753 435.5h1M777 435.5h1M800 435.5h1M823 435.5h1M846 435.5h1M870 435.5h1M893 435.5h1M916 435.5h1M79 436.5h1M149 436.5h1M219 436.5h1M288 436.5h1M358 436.5h1M428 436.5h1M498 436.5h1M567 436.5h1M637 436.5h1M707 436.5h1M777 436.5h1M846 436.5h1M916 436.5h1M79 437.5h1M149 437.5h1M219 437.5h1M288 437.5h1M358 437.5h1M428 437.5h1M498 437.5h1M567 437.5h1M637 437.5h1M707 437.5h1M777 437.5h1M846 437.5h1M916 437.5h1M79 438.5h1M149 438.5h1M219 438.5h1M288 438.5h1M358 438.5h1M428 438.5h1M498 438.5h1M567 438.5h1M637 438.5h1M707 438.5h1M777 438.5h1M846 438.5h1M916 438.5h1M79 439.5h1M149 439.5h1M219 439.5h1M288 439.5h1M358 439.5h1M428 439.5h1M498 439.5h1M567 439.5h1M637 439.5h1M707 439.5h1M777 439.5h1M846 439.5h1M916 439.5h1M79 440.5h1M916 440.5h1M79 441.5h1M916 441.5h1M79 442.5h1M916 442.5h1M79 443.5h1M916 443.5h1M79 444.5h1M916 444.5h1M79 445.5h1M916 445.5h1M79 446.5h1M916 446.5h1M79 447.5h1M916 447.5h1M79 448.5h1M916 448.5h1M79 449.5h1M916 449.5h1M79 450.5h1M916 450.5h1M79 451.5h1M916 451.5h1M79 452.5h1M916 452.5h1M79 453.5h1M916 453.5h1M79 454.5h1M916 454.5h1M79 455.5h1M916 455.5h1M79 456.5h1M916 456.5h1M79 457.5h1M916 457.5h1M79 458.5h1M916 458.5h1M79 459.5h1M916 459.5h1M79 460.5h1M916 460.5h1M79 461.5h1M916 461.5h1M79 462.5h1M916 462.5h1M79 463.5h1M916 463.5h1M79 464.5h1M916 464.5h1M79 465.5h1M916 465.5h1M79 466.5h1M916 466.5h1M79 467.5h1M916 467.5h1M79 468.5h1M916 468.5h1M79 469.5h1M916 469.5h1M79 470.5h1M916 470.5h1M79 471.5h1M909 471.5h8M79 472.5h1M916 472.5h1M79 473.5h1M916 473.5h1M79 474.5h1M916 474.5h1M79 475.5h1M916 475.5h1M79 476.5h1M916 476.5h1M79 477.5h1M916 477.5h1M79 478.5h1M916 478.5h1M79 479.5h1M916 479.5h1M79 480.5h1M916 480.5h1M79 481.5h1M916 481.5h1M79 482.5h1M916 482.5h1M79 483.5h1M916 483.5h1M79 484.5h1M916 484.5h1M79 485.5h1M916 485.5h1M79 486.5h1M916 486.5h1M79 487.5h1M916 487.5h1M79 488.5h1M916 488.5h1M79 489.5h1M916 489.5h1M79 490.5h1M916 490.5h1M79 491.5h1M916 491.5h1M79 492.5h1M916 492.5h1M79 493.5h1M916 493.5h1M79 494.5h1M916 494.5h1M79 495.5h1M916 495.5h1M79 496.5h1M916 496.5h1M79 497.5h1M916 497.5h1M79 498.5h1M916 498.5h1M79 499.5h1M916 499.5h1M79 500.5h1M916 500.5h1M79 501.5h1M916 501.5h1M79 502.5h1M916 502.5h1M79 503.5h1M916 503.5h1M79 504.5h1M916 504.5h1M79 505.5h1M916 505.5h1M79 506.5h1M916 506.5h1M79 507.5h1M916 507.5h1M79 508.5h1M916 508.5h1M79 509.5h1M916 509.5h1M79 510.5h1M916 510.5h1M79 511.5h8M909 511.5h8M79 512.5h1M916 512.5h1M79 513.5h1M916 513.5h1M79 514.5h1M916 514.5h1M79 515.5h1M916 515.5h1M79 516.5h1M916 516.5h1M79 517.5h1M916 517.5h1M79 518.5h1M916 518.5h1M79 519.5h1M916 519.5h1M79 520.5h1M916 520.5h1M79 521.5h1M916 521.5h1M79 522.5h1M916 522.5h1M79 523.5h1M916 523.5h1M79 524.5h1M916 524.5h1M79 525.5h1M916 525.5h1M79 526.5h1M916 526.5h1M79 527.5h1M916 527.5h1M79 528.5h1M916 528.5h1M79 529.5h1M916 529.5h1M79 530.5h1M916 530.5h1M79 531.5h1M916 531.5h1M79 532.5h1M916 532.5h1M79 533.5h1M916 533.5h1M79 534.5h1M916 534.5h1M79 535.5h1M916 535.5h1M79 536.5h1M916 536.5h1M79 537.5h1M916 537.5h1M79 538.5h1M916 538.5h1M79 539.5h1M916 539.5h1M79 540.5h1M916 540.5h1M79 541.5h1M916 541.5h1M79 542.5h1M916 542.5h1M79 543.5h1M916 543.5h1M79 544.5h1M916 544.5h1M79 545.5h1M916 545.5h1M79 546.5h1M916 546.5h1M79 547.5h1M916 547.5h1M79 548.5h1M916 548.5h1M79 549.5h1M916 549.5h1M79 550.5h1M909 550.5h8M79 551.5h1M916 551.5h1M79 552.5h1M916 552.5h1M79 553.5h1M916 553.5h1M79 554.5h1M916 554.5h1M79 555.5h1M916 555.5h1M79 556.5h1M916 556.5h1M79 557.5h1M916 557.5h1M79 558.5h1M916 558.5h1M79 559.5h1M916 559.5h1M79 560.5h1M916 560.5h1M79 561.5h1M916 561.5h1M79 562.5h1M916 562.5h1M79 563.5h1M916 563.5h1M79 564.5h1M916 564.5h1M79 565.5h1M916 565.5h1M79 566.5h1M916 566.5h1M79 567.5h1M916 567.5h1M79 568.5h1M916 568.5h1M79 569.5h1M916 569.5h1M79 570.5h1M916 570.5h1M79 571.5h1M916 571.5h1M79 572.5h1M916 572.5h1M79 573.5h1M916 573.5h1M79 574.5h1M916 574.5h1M79 575.5h1M916 575.5h1M79 576.5h1M916 576.5h1M79 577.5h1M916 577.5h1M79 578.5h1M916 578.5h1M79 579.5h1M916 579.5h1M79 580.5h1M916 580.5h1M79 581.5h1M916 581.5h1M79 582.5h1M916 582.5h1M79 583.5h1M916 583.5h1M79 584.5h1M916 584.5h1M79 585.5h1M916 585.5h1M79 586.5h1M916 586.5h1M79 587.5h1M916 587.5h1M79 588.5h1M916 588.5h1M79 589.5h1M916 589.5h1M79 590.5h8M909 590.5h8M79 591.5h1M916 591.5h1M79 592.5h1M916 592.5h1M79 593.5h1M916 593.5h1M79 594.5h1M916 594.5h1M79 595.5h1M916 595.5h1M79 596.5h1M916 596.5h1M79 597.5h1M916 597.5h1M79 598.5h1M916 598.5h1M79 599.5h1M916 599.5h1M79 600.5h1M916 600.5h1M79 601.5h1M916 601.5h1M79 602.5h1M916 602.5h1M79 603.5h1M916 603.5h1M79 604.5h1M916 604.5h1M79 605.5h1M916 605.5h1M79 606.5h1M916 606.5h1M79 607.5h1M916 607.5h1M79 608.5h1M916 608.5h1M79 609.5h1M916 609.5h1M79 610.5h1M916 610.5h1M79 611.5h1M916 611.5h1M79 612.5h1M916 612.5h1M79 613.5h1M916 613.5h1M79 614.5h1M916 614.5h1M79 615.5h1M916 615.5h1M79 616.5h1M916 616.5h1M79 617.5h1M916 617.5h1M79 618.5h1M916 618.5h1M79 619.5h1M916 619.5h1M79 620.5h1M916 620.5h1M79 621.5h1M916 621.5h1M79 622.5h1M916 622.5h1M79 623.5h1M916 623.5h1M79 624.5h1M916 624.5h1M79 625.5h1M916 625.5h1M79 626.5h1M916 626.5h1M79 627.5h1M916 627.5h1M79 628.5h1M916 628.5h1M79 629.5h1M909 629.5h8M79 630.5h1M916 630.5h1M79 631.5h1M916 631.5h1M79 632.5h1M916 632.5h1M79 633.5h1M916 633.5h1M79 634.5h1M916 634.5h1M79 635.5h1M916 635.5h1M79 636.5h1M916 636.5h1M79 637.5h1M916 637.5h1M79 638.5h1M916 638.5h1M79 639.5h1M916 639.5h1M79 640.5h1M916 640.5h1M79 641.5h1M916 641.5h1M79 642.5h1M916 642.5h1M79 643.5h1M916 643.5h1M79 644.5h1M916 644.5h1M79 645.5h1M916 645.5h1M79 646.5h1M916 646.5h1M79 647.5h1M916 647.5h1M79 648.5h1M916 648.5h1M79 649.5h1M916 649.5h1M79 650.5h1M916 650.5h1M79 651.5h1M916 651.5h1M79 652.5h1M916 652.5h1M79 653.5h1M916 653.5h1M79 654.5h1M916 654.5h1M79 655.5h1M916 655.5h1M79 656.5h1M916 656.5h1M79 657.5h1M916 657.5h1M79 658.5h1M916 658.5h1M79 659.5h1M916 659.5h1M79 660.5h1M916 660.5h1M79 661.5h1M916 661.5h1M79 662.5h1M916 662.5h1M79 663.5h1M916 663.5h1M79 664.5h1M916 664.5h1M79 665.5h1M916 665.5h1M79 666.5h1M916 666.5h1M79 667.5h1M916 667.5h1M79 668.5h1M916 668.5h1M79 669.5h8M909 669.5h8M79 670.5h1M916 670.5h1M79 671.5h1M916 671.5h1M79 672.5h1M916 672.5h1M79 673.5h1M916 673.5h1M79 674.5h1M916 674.5h1M79 675.5h1M916 675.5h1M79 676.5h1M916 676.5h1M79 677.5h1M916 677.5h1M79 678.5h1M916 678.5h1M79 679.5h1M916 679.5h1M79 680.5h1M916 680.5h1M79 681.5h1M916 681.5h1M79 682.5h1M916 682.5h1M79 683.5h1M916 683.5h1M79 684.5h1M916 684.5h1M79 685.5h1M916 685.5h1M79 686.5h1M916 686.5h1M79 687.5h1M916 687.5h1M79 688.5h1M916 688.5h1M79 689.5h1M916 689.5h1M79 690.5h1M916 690.5h1M79 691.5h1M916 691.5h1M79 692.5h1M916 692.5h1M79 693.5h1M916 693.5h1M79 694.5h1M916 694.5h1M79 695.5h1M916 695.5h1M79 696.5h1M916 696.5h1M79 697.5h1M916 697.5h1M79 698.5h1M916 698.5h1M79 699.5h1M916 699.5h1M79 700.5h1M916 700.5h1M79 701.5h1M916 701.5h1M79 702.5h1M916 702.5h1M79 703.5h1M916 703.5h1M79 704.5h1M916 704.5h1M79 705.5h1M916 705.5h1M79 706.5h1M916 706.5h1M79 707.5h1M916 707.5h1M79 708.5h1M909 708.5h8M79 709.5h1M916 709.5h1M79 710.5h1M916 710.5h1M79 711.5h1M916 711.5h1M79 712.5h1M916 712.5h1M79 713.5h1M916 713.5h1M79 714.5h1M916 714.5h1M79 715.5h1M916 715.5h1M79 716.5h1M916 716.5h1M79 717.5h1M916 717.5h1M79 718.5h1M916 718.5h1M79 719.5h1M916 719.5h1M79 720.5h1M916 720.5h1M79 721.5h1M916 721.5h1M79 722.5h1M916 722.5h1M79 723.5h1M916 723.5h1M79 724.5h1M916 724.5h1M79 725.5h1M916 725.5h1M79 726.5h1M916 726.5h1M79 727.5h1M916 727.5h1M79 728.5h1M916 728.5h1M79 729.5h1M916 729.5h1M79 730.5h1M916 730.5h1M79 731.5h1M916 731.5h1M79 732.5h1M916 732.5h1M79 733.5h1M916 733.5h1M79 734.5h1M916 734.5h1M79 735.5h1M916 735.5h1M79 736.5h1M916 736.5h1M79 737.5h1M916 737.5h1M79 738.5h1M916 738.5h1M79 739.5h1M916 739.5h1M79 740.5h1M916 740.5h1M79 741.5h1M149 741.5h1M219 741.5h1M288 741.5h1M358 741.5h1M428 741.5h1M498 741.5h1M567 741.5h1M637 741.5h1M707 741.5h1M777 741.5h1M846 741.5h1M916 741.5h1M79 742.5h1M149 742.5h1M219 742.5h1M288 742.5h1M358 742.5h1M428 742.5h1M498 742.5h1M567 742.5h1M637 742.5h1M707 742.5h1M777 742.5h1M846 742.5h1M916 742.5h1M79 743.5h1M149 743.5h1M219 743.5h1M288 743.5h1M358 743.5h1M428 743.5h1M498 743.5h1M567 743.5h1M637 743.5h1M707 743.5h1M777 743.5h1M846 743.5h1M916 743.5h1M79 744.5h1M149 744.5h1M219 744.5h1M288 744.5h1M358 744.5h1M428 744.5h1M498 744.5h1M567 744.5h1M637 744.5h1M707 744.5h1M777 744.5h1M846 744.5h1M916 744.5h1M79 745.5h1M102 745.5h1M126 745.5h1M149 745.5h1M172 745.5h1M195 745.5h1M219 745.5h1M242 745.5h1M265 745.5h1M288 745.5h1M312 745.5h1M335 745.5h1M358 745.5h1M381 745.5h1M405 745.5h1M428 745.5h1M451 745.5h1M474 745.5h1M498 745.5h1M521 745.5h1M544 745.5h1M567 745.5h1M591 745.5h1M614 745.5h1M637 745.5h1M660 745.5h1M684 745.5h1M707 745.5h1M730 745.5h1M753 745.5h1M777 745.5h1M800 745.5h1M823 745.5h1M846 745.5h1M870 745.5h1M893 745.5h1M916 745.5h1M79 746.5h1M102 746.5h1M126 746.5h1M149 746.5h1M172 746.5h1M195 746.5h1M219 746.5h1M242 746.5h1M265 746.5h1M288 746.5h1M312 746.5h1M335 746.5h1M358 746.5h1M381 746.5h1M405 746.5h1M428 746.5h1M451 746.5h1M474 746.5h1M498 746.5h1M521 746.5h1M544 746.5h1M567 746.5h1M591 746.5h1M614 746.5h1M637 746.5h1M660 746.5h1M684 746.5h1M707 746.5h1M730 746.5h1M753 746.5h1M777 746.5h1M800 746.5h1M823 746.5h1M846 746.5h1M870 746.5h1M893 746.5h1M916 746.5h1M79 747.5h1M102 747.5h1M126 747.5h1M149 747.5h1M172 747.5h1M195 747.5h1M219 747.5h1M242 747.5h1M265 747.5h1M288 747.5h1M312 747.5h1M335 747.5h1M358 747.5h1M381 747.5h1M405 747.5h1M428 747.5h1M451 747.5h1M474 747.5h1M498 747.5h1M521 747.5h1M544 747.5h1M567 747.5h1M591 747.5h1M614 747.5h1M637 747.5h1M660 747.5h1M684 747.5h1M707 747.5h1M730 747.5h1M753 747.5h1M777 747.5h1M800 747.5h1M823 747.5h1M846 747.5h1M870 747.5h1M893 747.5h1M916 747.5h1M79 748.5h838"/>
</g>
<g font-family="'DejaVu Sans', 'Liberation Sans', sans-serif" font-size="16px" fill="#000" stroke="#fff" stroke-width="0.2" style="filter:grayscale(1)">
<text x="510.5" y="23" text-anchor="middle">Satellite: NOAA 21&#160;&#160;&#160;&#160;Start Time: 28-Oct-2025 16:58:36</text>
<text x="497" y="52" text-anchor="middle">Position</text>
<text x="495.6" y="425.5" text-anchor="middle" letter-spacing="0.02">HRD_RX_1 Receive Signal</text>
<text x="495" y="385" text-anchor="middle">Time</text>
<text x="66.0" y="269" text-anchor="end">0</text>
<text x="66.0" y="235" text-anchor="end">60</text>
<text x="67.9" y="200" text-anchor="end">120</text>
<text x="67.9" y="166" text-anchor="end">180</text>
<text x="67.2" y="132" text-anchor="end">240</text>
<text x="67.2" y="97" text-anchor="end">300</text>
<text x="67.5" y="63" text-anchor="end">360</text>
<text x="932" y="269" text-anchor="start">0</text>
<text x="932" y="246" text-anchor="start">10</text>
<text x="932" y="223" text-anchor="start">20</text>
<text x="932" y="200" text-anchor="start">30</text>
<text x="932" y="177" text-anchor="start">40</text>
<text x="932" y="155" text-anchor="start">50</text>
<text x="932" y="132" text-anchor="start">60</text>
<text x="932" y="109" text-anchor="start">70</text>
<text x="932" y="86" text-anchor="start">80</text>
<text x="932" y="63" text-anchor="start">90</text>
<text x="67.5" y="753" text-anchor="end">-34</text>
<text x="67.5" y="674" text-anchor="end">-32</text>
<text x="67.5" y="595" text-anchor="end">-30</text>
<text x="67.5" y="516" text-anchor="end">-28</text>
<text x="67.5" y="437" text-anchor="end">-26</text>
<text x="932" y="753" text-anchor="start">0</text>
<text x="932" y="713" text-anchor="start">2</text>
<text x="932" y="674" text-anchor="start">4</text>
<text x="932" y="634" text-anchor="start">6</text>
<text x="932" y="595" text-anchor="start">8</text>
<text x="932" y="555" text-anchor="start">10</text>
<text x="932" y="516" text-anchor="start">12</text>
<text x="932" y="476" text-anchor="start">14</text>
<text x="932" y="437" text-anchor="start">16</text>
<text x="74" y="275" text-anchor="start" transform="rotate(90 74 275)">16:58:00</text>
<text x="144" y="275" text-anchor="start" transform="rotate(90 144 275)">16:59:00</text>
<text x="214" y="275" text-anchor="start" transform="rotate(90 214 275)">17:00:00</text>
<text x="283" y="275" text-anchor="start" transform="rotate(90 283 275)">17:01:00</text>
<text x="353" y="275" text-anchor="start" transform="rotate(90 353 275)">17:02:00</text>
<text x="423" y="275" text-anchor="start" transform="rotate(90 423 275)">17:03:00</text>
<text x="493" y="275" text-anchor="start" transform="rotate(90 493 275)">17:04:00</text>
<text x="562" y="275" text-anchor="start" transform="rotate(90 562 275)">17:05:00</text>
<text x="632" y="275" text-anchor="start" transform="rotate(90 632 275)">17:06:00</text>
<text x="702" y="275" text-anchor="start" transform="rotate(90 702 275)">17:07:00</text>
<text x="772" y="275" text-anchor="start" transform="rotate(90 772 275)">17:08:00</text>
<text x="841" y="275" text-anchor="start" transform="rotate(90 841 275)">17:09:00</text>
<text x="911" y="275" text-anchor="start" transform="rotate(90 911 275)">17:10:00</text>
<text x="17.8" y="162" text-anchor="middle" transform="rotate(-90 17.8 162)" letter-spacing="0.18">Azimuth Degrees</text>
<text x="982.5" y="161" text-anchor="middle" transform="rotate(-90 982.5 161)" letter-spacing="0.18">Elevation Degrees</text>
<text x="17.5" y="589.5" text-anchor="middle" transform="rotate(-90 17.5 589.5)">dB</text>
<text x="982.5" y="590" text-anchor="middle" transform="rotate(-90 982.5 590)">Eb/No</text>
<text x="830" y="156" text-anchor="end">Azimuth</text>
<text x="831" y="175" text-anchor="end">Elevation</text>
<text x="830.5" y="585" text-anchor="end">signal_level</text>
<text x="831.2" y="604" text-anchor="end">ebno</text>
</g></svg>
</body></html>
